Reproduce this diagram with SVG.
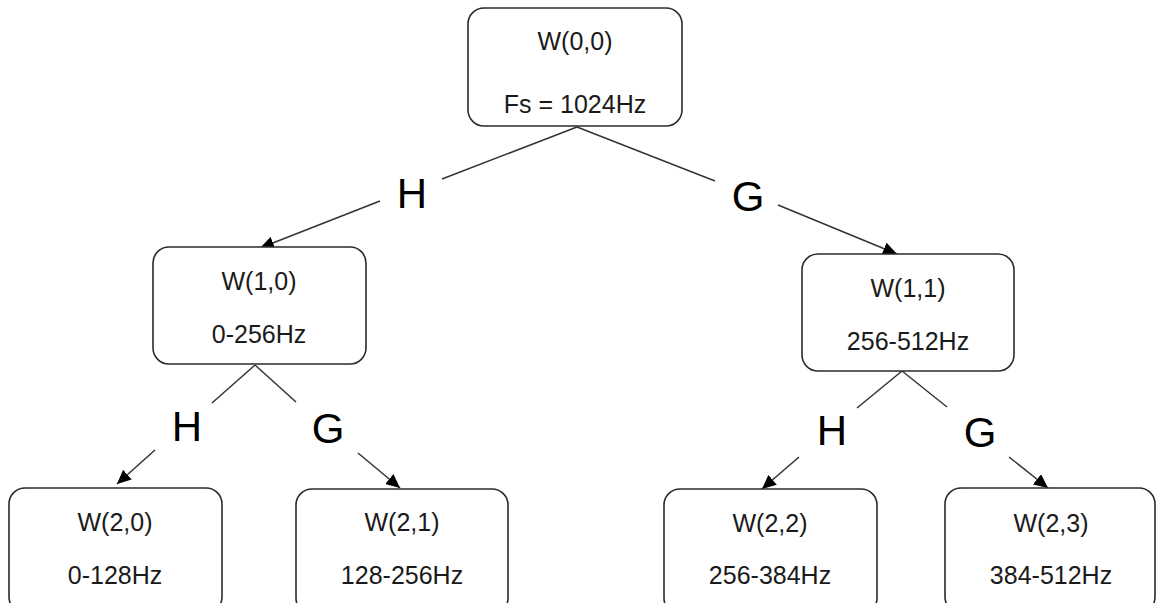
<svg xmlns="http://www.w3.org/2000/svg" width="1156" height="603" viewBox="0 0 1156 603">
<defs>
<marker id="ah" markerUnits="userSpaceOnUse" markerWidth="15" markerHeight="13" refX="14" refY="6.5" orient="auto">
<path d="M0,0 L14,6.5 L0,13 z" fill="#000"/>
</marker>
<style>
.box{fill:#fff;stroke:#2b2b2b;stroke-width:1.6}
.t{font-family:"Liberation Sans",Arial,sans-serif;font-size:25px;fill:#1a1a1a;text-anchor:middle}
.lb{font-family:"Liberation Sans",Arial,sans-serif;font-size:42px;fill:#000;text-anchor:middle}
.ln{stroke:#333;stroke-width:1.5;fill:none}
.ar{stroke:#333;stroke-width:1.5;fill:none;marker-end:url(#ah)}
</style>
</defs>
<rect width="1156" height="603" fill="#fff"/>
<g id="connectors">
<line class="ln" x1="577" y1="127" x2="442" y2="179"/>
<line class="ar" x1="380" y1="201" x2="260" y2="248"/>
<line class="ln" x1="577" y1="127" x2="715" y2="181"/>
<line class="ar" x1="778" y1="205" x2="897" y2="254"/>
<line class="ln" x1="255" y1="365" x2="212" y2="403"/>
<line class="ar" x1="155" y1="450" x2="117" y2="484"/>
<line class="ln" x1="255" y1="365" x2="296" y2="402"/>
<line class="ar" x1="358" y1="453" x2="400" y2="488"/>
<line class="ln" x1="902" y1="371" x2="857" y2="408"/>
<line class="ar" x1="799" y1="457" x2="762" y2="489"/>
<line class="ln" x1="902" y1="371" x2="947" y2="407"/>
<line class="ar" x1="1009" y1="457" x2="1048" y2="488"/>
<text class="lb" x="412" y="208">H</text>
<text class="lb" x="748" y="211">G</text>
<text class="lb" x="187" y="441">H</text>
<text class="lb" x="328" y="443">G</text>
<text class="lb" x="832" y="445">H</text>
<text class="lb" x="980" y="447">G</text>
</g>
<g id="w00">
<rect class="box" x="468" y="8" width="214" height="118" rx="16"/>
<text class="t" x="575" y="50">W(0,0)</text>
<text class="t" x="575" y="113">Fs = 1024Hz</text>
</g>
<g id="w10">
<rect class="box" x="153" y="247" width="213" height="117" rx="16"/>
<text class="t" x="259" y="290">W(1,0)</text>
<text class="t" x="259" y="343">0-256Hz</text>
</g>
<g id="w11">
<rect class="box" x="802" y="254" width="212" height="117" rx="16"/>
<text class="t" x="908" y="297">W(1,1)</text>
<text class="t" x="908" y="350">256-512Hz</text>
</g>
<g id="w20">
<rect class="box" x="9" y="488" width="213" height="125" rx="16"/>
<text class="t" x="115" y="531">W(2,0)</text>
<text class="t" x="115" y="584">0-128Hz</text>
</g>
<g id="w21">
<rect class="box" x="296" y="489" width="212" height="125" rx="16"/>
<text class="t" x="402" y="531">W(2,1)</text>
<text class="t" x="402" y="584">128-256Hz</text>
</g>
<g id="w22">
<rect class="box" x="664" y="489" width="213" height="125" rx="16"/>
<text class="t" x="770" y="532">W(2,2)</text>
<text class="t" x="770" y="584">256-384Hz</text>
</g>
<g id="w23">
<rect class="box" x="945" y="488" width="210" height="125" rx="16"/>
<text class="t" x="1051" y="532">W(2,3)</text>
<text class="t" x="1051" y="584">384-512Hz</text>
</g>
</svg>
